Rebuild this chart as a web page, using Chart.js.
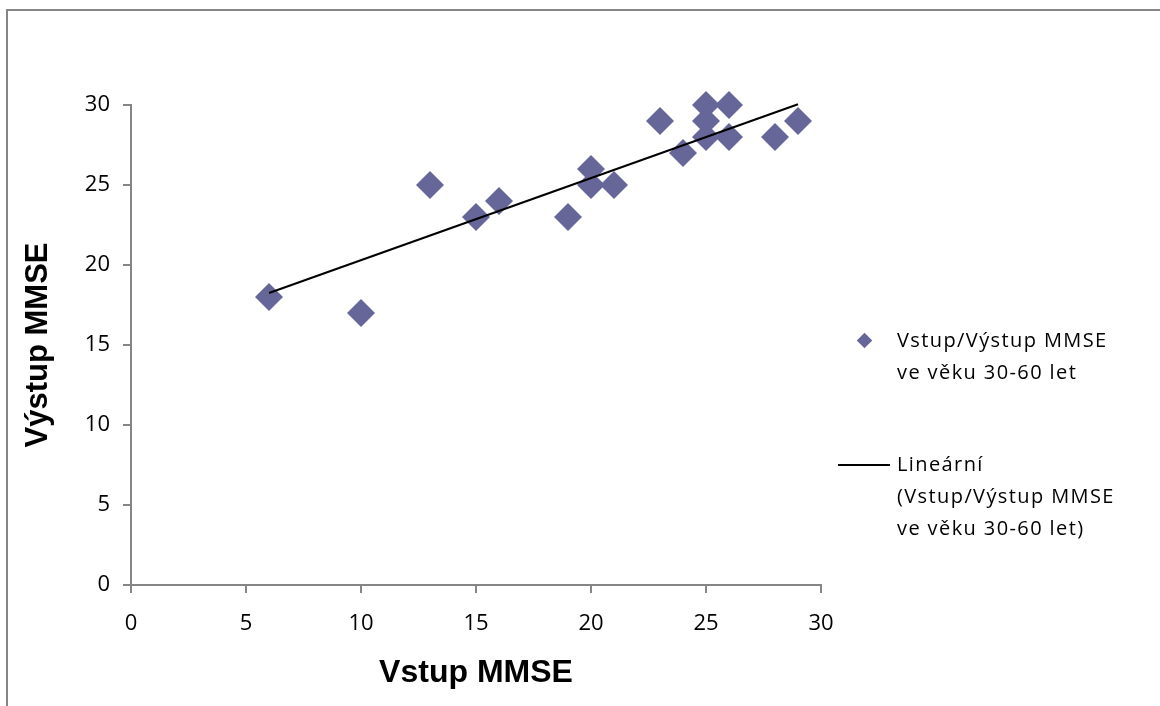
<!DOCTYPE html>
<html>
<head>
<meta charset="utf-8">
<script src="https://cdn.jsdelivr.net/npm/chart.js@4/dist/chart.umd.min.js"></script>
<style>
  html, body { margin: 0; padding: 0; background: #fff; overflow: hidden; }
  #wrap { position: relative; width: 1160px; height: 706px; }
  #ram { position: absolute; left: 6px; top: 9px; width: 1200px; height: 800px;
         border-top: 2px solid #868686; border-left: 2px solid #868686; }
  #graf { position: absolute; left: 0; top: 0; }
  .leg { position: absolute; font-family: "Open Sans", sans-serif; font-size: 20px;
         letter-spacing: 1.4px; line-height: 32px; color: #000; white-space: nowrap; }
  .kos { position: absolute; width: 11px; height: 11px; background: #666699;
         transform: rotate(45deg); }
  .cara { position: absolute; height: 2px; background: #000; }
</style>
</head>
<body>
<div id="wrap">
  <div id="ram"></div>
  <canvas id="graf" width="1160" height="706"></canvas>
  <div class="kos" style="left:859px; top:335px;"></div>
  <div class="leg" style="left:897px; top:324px;">Vstup/Výstup MMSE<br>ve věku 30-60 let</div>
  <div class="cara" style="left:838px; top:464px; width:52px;"></div>
  <div class="leg" style="left:897px; top:448px;">Lineární<br>(Vstup/Výstup MMSE<br>ve věku 30-60 let)</div>
</div>
<script>
// Data
const vstup = [6, 10, 13, 15, 16, 19, 20, 20, 21, 23, 24, 25, 25, 25, 26, 26, 28, 29];
const vystup = [18, 17, 25, 23, 24, 23, 26, 25, 25, 29, 27, 30, 29, 28, 30, 28, 28, 29];
// Lineární trend (koncové body)
const trendX = [6, 29];
const trendY = [18.25, 30.05];
const tickyX = [0, 5, 10, 15, 20, 25, 30];
const tickyY = [0, 5, 10, 15, 20, 25, 30];

const body = vstup.map((x, i) => ({ x: x, y: vystup[i] }));
const trend = trendX.map((x, i) => ({ x: x, y: trendY[i] }));

const sedaOsa = '#868686';
const pismo = { family: '"Open Sans", sans-serif', size: 22 };

const ctx = document.getElementById('graf').getContext('2d');
const graf = new Chart(ctx, {
    type: 'scatter',
    data: {
        datasets: [
            {
                label: 'Lineární (Vstup/Výstup MMSE ve věku 30-60 let)',
                type: 'line',
                data: trend,
                borderColor: '#000000',
                borderWidth: 2,
                pointRadius: 0,
                fill: false,
                clip: false,
                order: 0
            },
            {
                label: 'Vstup/Výstup MMSE ve věku 30-60 let',
                data: body,
                pointStyle: 'rectRot',
                pointRadius: 14,
                pointHoverRadius: 14,
                backgroundColor: '#666699',
                borderColor: '#666699',
                borderWidth: 0,
                clip: false,
                order: 1
            }
        ]
    },
    options: {
        responsive: false,
        animation: false,
        layout: { padding: { left: 10, right: 339, top: 105, bottom: 0 } },
        plugins: {
            legend: { display: false },
            tooltip: { enabled: false }
        },
        scales: {
            x: {
                type: 'linear',
                min: 0,
                max: 30,
                afterFit: function (scale) { scale.height = 121; },
                afterBuildTicks: function (scale) { scale.ticks = tickyX.map(v => ({ value: v })); },
                grid: { drawOnChartArea: false, drawTicks: true, tickLength: 8, color: sedaOsa, lineWidth: 2 },
                border: { color: sedaOsa, width: 2 },
                ticks: { color: '#000', font: pismo, padding: 18, maxRotation: 0 },
                title: {
                    display: true,
                    text: 'Vstup MMSE',
                    color: '#000',
                    font: { family: '"Liberation Sans", Arial, sans-serif', size: 32, weight: 'bold' },
                    padding: { top: 0, bottom: 14 }
                }
            },
            y: {
                type: 'linear',
                min: 0,
                max: 30,
                afterFit: function (scale) { scale.width = 121; },
                afterBuildTicks: function (scale) { scale.ticks = tickyY.map(v => ({ value: v })); },
                grid: { drawOnChartArea: false, drawTicks: true, tickLength: 8, color: sedaOsa, lineWidth: 2 },
                border: { color: sedaOsa, width: 2 },
                ticks: { color: '#000', font: pismo, padding: 13 },
                title: {
                    display: true,
                    text: 'Výstup MMSE',
                    color: '#000',
                    font: { family: '"Liberation Sans", Arial, sans-serif', size: 31, weight: 'bold' },
                    padding: { top: 10, bottom: 0 }
                }
            }
        }
    }
});
</script>
</body>
</html>
